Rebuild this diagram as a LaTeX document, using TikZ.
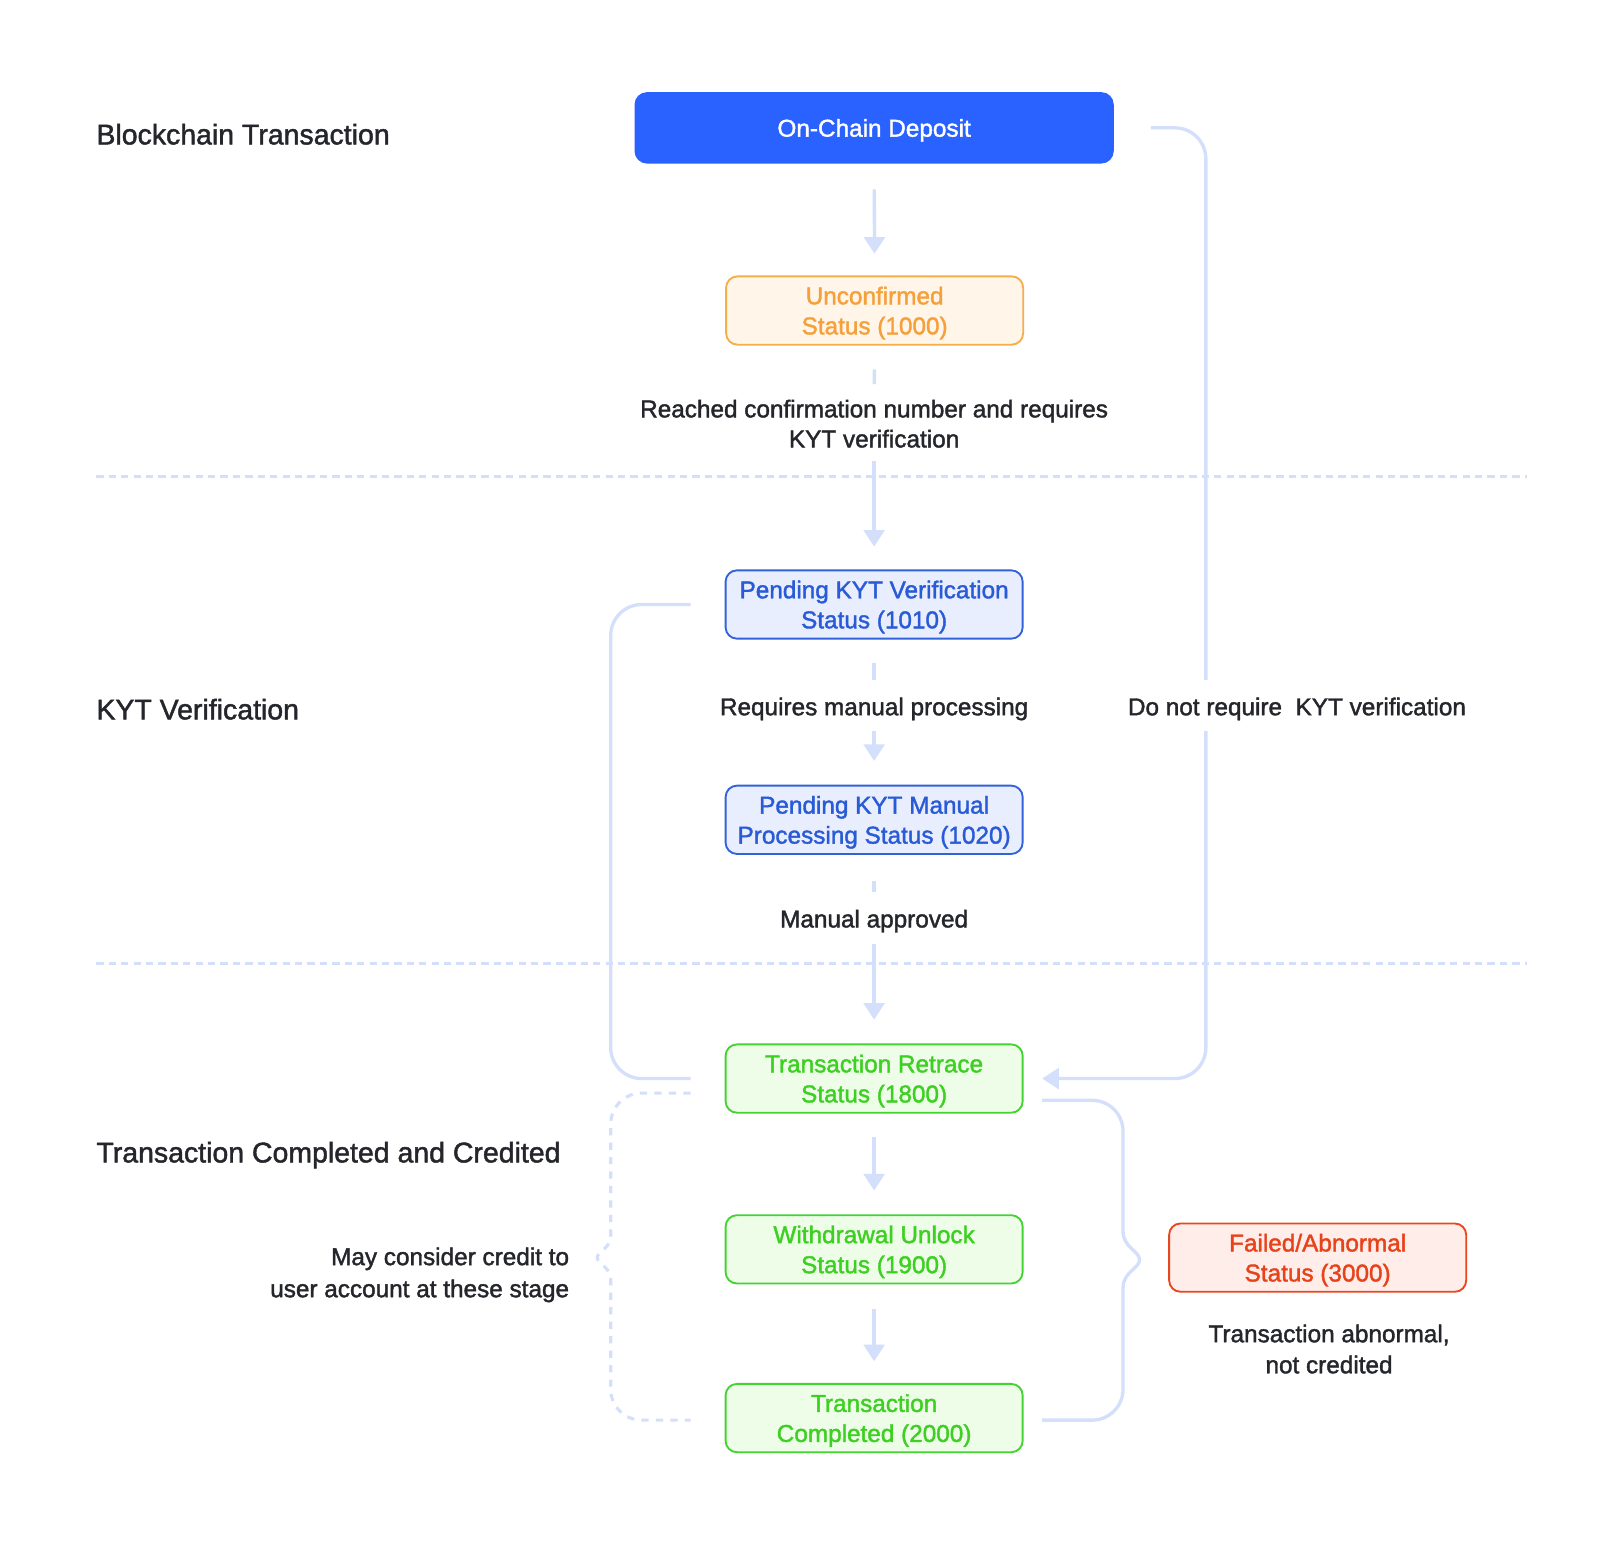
\documentclass[tikz,border=0pt]{standalone}
\usepackage{fontspec}
\setmainfont{Liberation Sans}[FakeBold=1.6]
\usetikzlibrary{arrows.meta}
\definecolor{conn}{HTML}{D3DFFB}
\definecolor{depblue}{HTML}{2962FF}
\definecolor{orTxt}{HTML}{F5A03A}
\definecolor{orFill}{HTML}{FFF5E9}
\definecolor{orDraw}{HTML}{F5AE4C}
\definecolor{blTxt}{HTML}{2A5BD7}
\definecolor{blFill}{HTML}{E8EEFD}
\definecolor{blDraw}{HTML}{3262D9}
\definecolor{grTxt}{HTML}{3DCF22}
\definecolor{grFill}{HTML}{EDFDE8}
\definecolor{grDraw}{HTML}{45D233}
\definecolor{rdTxt}{HTML}{E8421A}
\definecolor{rdFill}{HTML}{FFEDEA}
\definecolor{rdDraw}{HTML}{E8471F}
\definecolor{ink}{HTML}{25262B}
\begin{document}
\begin{tikzpicture}[x=1pt,y=-1pt,
  statebox/.style={draw, line width=1.8pt, rounded corners=11pt,
    minimum width=287pt, minimum height=66pt, align=center, inner sep=0pt,
    text depth=-3pt, font=\fontsize{23.5}{29}\selectfont},
  orbox/.style={statebox, fill=orFill, draw=orDraw, text=orTxt},
  blbox/.style={statebox, fill=blFill, draw=blDraw, text=blTxt},
  grbox/.style={statebox, fill=grFill, draw=grDraw, text=grTxt},
  rdbox/.style={statebox, fill=rdFill, draw=rdDraw, text=rdTxt},
  lbl/.style={text=ink, font=\fontsize{23.5}{29}\selectfont, inner sep=0pt, align=center},
  title/.style={text=ink, font=\fontsize{27.5}{32}\selectfont, inner sep=0pt, anchor=base west},
  connl/.style={draw=conn, line width=3.2pt},
  arr/.style={connl, -{Triangle[width=20pt,length=16pt]}},
  sep/.style={draw=conn, line width=3pt, dash pattern=on 7pt off 5pt},
]
\fill[white] (0,0) rectangle (1568,1494);
\useasboundingbox (0,0) rectangle (1568,1494);

% section separators
\coordinate (s1a) at (93,460); \coordinate (s1b) at (1475,460);
\coordinate (s2a) at (93,931); \coordinate (s2b) at (1475,931);
\draw[sep] (s1a) -- (s1b);
\draw[sep] (s2a) -- (s2b);

% section titles
\node[title] (t1) at (93,139.5) {Blockchain Transaction};
\node[title] (t2) at (93,695) {KYT Verification};
\node[title] (t3) at (93,1123) {Transaction Completed and Credited};

% state nodes
\node[statebox, draw=none, fill=depblue, text=white, minimum width=463pt, minimum height=69pt, rounded corners=12pt] (dep) at (844.5,123.5) {On-Chain Deposit};
\node[orbox] (unc) at (845,300) {Unconfirmed\\Status (1000)};
\node[blbox] (pkv) at (844.5,584) {Pending KYT Verification\\Status (1010)};
\node[blbox] (pkm) at (844.5,792) {Pending KYT Manual\\Processing Status (1020)};
\node[grbox] (ret) at (844.5,1042) {Transaction Retrace\\Status (1800)};
\node[grbox] (wdu) at (844.5,1207) {Withdrawal Unlock\\Status (1900)};
\node[grbox] (cmp) at (844.5,1370) {Transaction\\Completed (2000)};
\node[rdbox] (fail) at (1273,1215) {Failed/Abnormal\\Status (3000)};

% edge labels
\node[lbl, anchor=north] (lab1) at (844.5,386) {Reached confirmation number and requires\\KYT verification};
\node[lbl, anchor=base, text height=34pt, text depth=15pt] (lab2) at (844.5,691) {Requires manual processing};
\node[lbl, anchor=base, text height=34pt, text depth=16pt] (lab3) at (844.5,896) {Manual approved};

% vertical flow
\draw[arr, shorten <=24pt, shorten >=21pt] (dep.south) -- (unc.north);
\draw[connl, shorten <=23pt, shorten >=15pt] (unc.south) -- (lab1.north);
\draw[arr, shorten <=13pt, shorten >=22pt] (lab1.south) -- (pkv.north);
\draw[connl, shorten <=23pt] (pkv.south) -- (lab2.north);
\draw[arr, shorten >=23pt] (lab2.south) -- (pkm.north);
\draw[connl, shorten <=25pt] (pkm.south) -- (lab3.north);
\draw[arr, shorten >=23pt] (lab3.south) -- (ret.north);
\draw[arr, shorten <=23pt, shorten >=23pt] (ret.south) -- (wdu.north);
\draw[arr, shorten <=24pt, shorten >=21pt] (wdu.south) -- (cmp.north);

% right bypass loop
\coordinate (rx) at (1165,600);
\draw[arr, rounded corners=30pt] ([xshift=35pt]dep.east) -| (rx) |- ([xshift=18pt]ret.east);
\node[lbl, anchor=base, fill=white, inner xsep=3pt, text height=34pt, text depth=15pt] (lab4) at (1253,691) {Do not require\ \ KYT verification};

% left loop
\coordinate (lx) at (590,800);
\draw[connl, rounded corners=30pt] ([xshift=-33pt]pkv.west) -| (lx) |- ([xshift=-33pt]ret.west);

% left dashed brace
\draw[draw=conn, line width=3pt, dash pattern=on 7pt off 7pt]
  ([xshift=-33pt,yshift=-14pt]ret.west) -- (620,1056)
  .. controls (603.4,1056) and (590,1069.4) .. (590,1086) -- (590,1194)
  .. controls (590,1206) and (577,1209) .. (577,1215)
  .. controls (577,1221) and (590,1224) .. (590,1236) -- (590,1342)
  .. controls (590,1358.6) and (603.4,1372) .. (620,1372) -- ([xshift=-33pt,yshift=-2pt]cmp.west);
\node[lbl, anchor=north east, align=right, font=\fontsize{23.5}{31}\selectfont] (lab5) at (550,1205) {May consider credit to\\user account at these stage};

% right brace
\draw[connl]
  ([xshift=18pt,yshift=-21pt]ret.east) -- (1055,1063)
  .. controls (1071.6,1063) and (1085,1076.4) .. (1085,1093) -- (1085,1190)
  .. controls (1085,1205) and (1101,1209) .. (1101,1217)
  .. controls (1101,1225) and (1085,1229) .. (1085,1244) -- (1085,1342)
  .. controls (1085,1358.6) and (1071.6,1372) .. (1055,1372) -- ([xshift=18pt,yshift=-2pt]cmp.east);
\node[lbl, anchor=north, font=\fontsize{23.5}{30}\selectfont] (lab6) at (1284,1279.5) {Transaction abnormal,\\not credited};
\end{tikzpicture}
\end{document}
